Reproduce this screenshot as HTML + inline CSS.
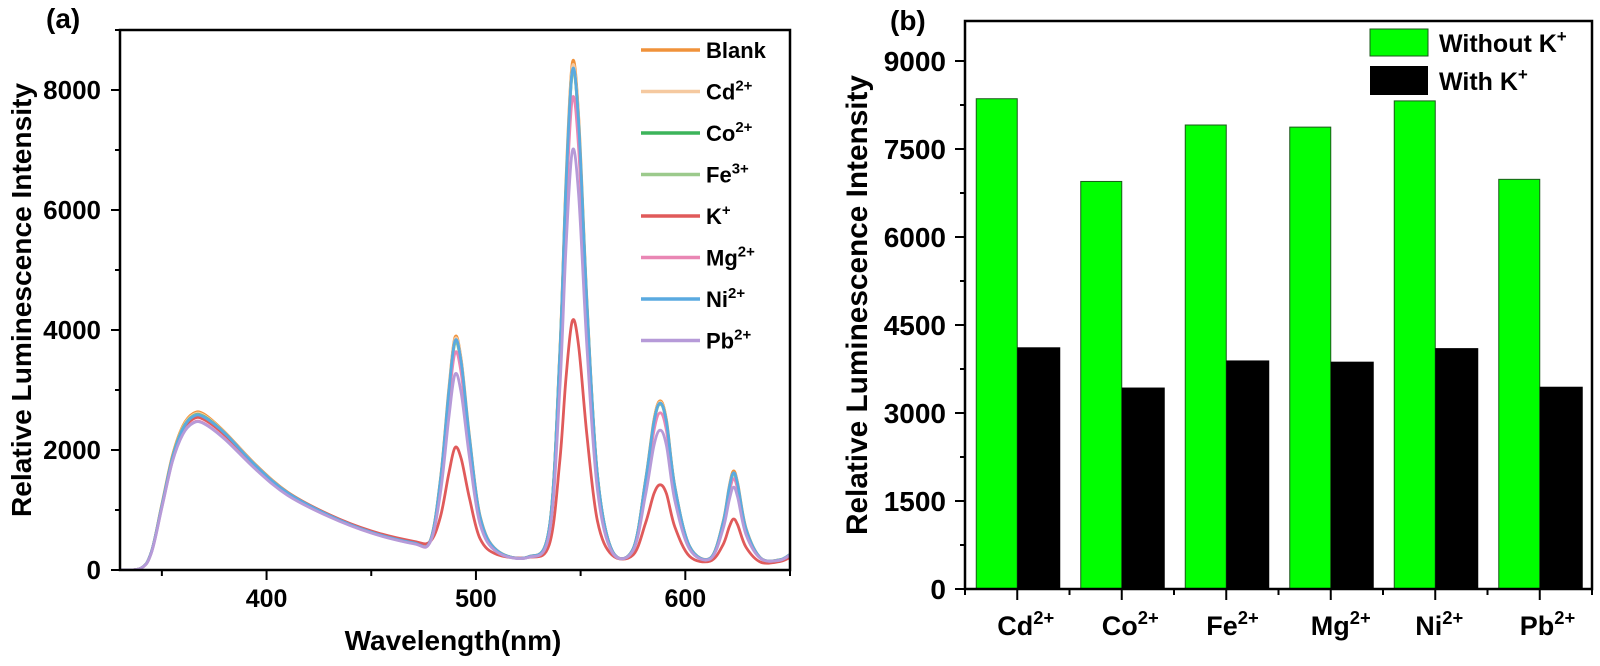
<!DOCTYPE html>
<html><head><meta charset="utf-8"><style>
body{margin:0;background:#fff;}
svg{display:block;font-family:"Liberation Sans",Arial,sans-serif;font-weight:bold;}
</style></head><body>
<svg id="fig" width="1600" height="666" viewBox="0 0 1600 666">
<g id="chartA"></g>
<g id="chartB"></g>
</svg>
<script>
// ---------- Chart (a) data ----------
const wavelengths=[330,340,345,350,355,360,365,370,380,395,410,430,450,470,478,483,487,490,493,497,502,510,525,535,540,543,546,549,553,558,565,575,581,585,588,591,595,602,612,618,621,623,625,629,636,645,650];
const blankVals=[0,30,300,1100,1900,2400,2610,2600,2300,1750,1300,920,640,460,480,1500,3000,3880,3500,2200,900,330,220,700,3600,6500,8450,7600,4500,1600,330,350,1500,2500,2820,2500,1400,400,200,800,1400,1650,1450,700,200,170,260];
const cdVals=[0,30,300,1090,1880,2380,2590,2580,2290,1740,1290,910,630,455,475,1490,2980,3850,3480,2180,890,330,220,695,3570,6450,8380,7540,4470,1590,330,350,1490,2480,2800,2480,1390,400,200,790,1380,1620,1430,690,200,170,260];
const coVals=[0,30,300,1080,1870,2360,2570,2560,2280,1730,1285,905,628,452,470,1470,2940,3800,3430,2160,880,325,218,690,3540,6380,8300,7470,4430,1580,328,348,1480,2460,2780,2460,1380,395,198,780,1360,1600,1410,680,198,168,258];
const feVals=[0,30,298,1078,1865,2355,2565,2555,2275,1728,1283,903,626,450,468,1465,2925,3780,3410,2150,875,324,218,688,3530,6360,8280,7450,4420,1575,327,347,1470,2445,2760,2445,1370,393,197,775,1355,1600,1405,678,198,168,258];
const kVals=[0,30,300,1070,1850,2320,2520,2510,2250,1720,1290,920,650,480,470,880,1600,2040,1850,1180,520,260,210,420,1800,3200,4150,3750,2250,820,250,250,780,1270,1420,1270,720,230,150,420,720,850,750,380,130,140,210];
const mgVals=[0,30,290,1050,1810,2270,2460,2450,2190,1680,1250,890,620,445,460,1410,2800,3620,3270,2060,845,315,215,660,3350,6040,7850,7060,4190,1500,320,340,1400,2320,2620,2320,1300,380,195,740,1290,1520,1340,650,195,165,255];
const niVals=[0,30,300,1075,1860,2350,2560,2550,2280,1735,1288,908,630,453,472,1480,2950,3820,3450,2170,885,326,219,692,3550,6400,8320,7490,4440,1585,328,348,1480,2460,2780,2460,1385,396,198,785,1375,1620,1425,685,199,169,259];
const pbVals=[0,30,285,1040,1800,2260,2450,2440,2180,1670,1245,885,615,440,455,1270,2520,3260,2940,1850,760,300,210,600,2980,5370,6980,6280,3720,1340,300,320,1250,2070,2330,2070,1160,350,185,680,1170,1380,1210,590,190,160,250];
const seriesNames=["Blank","Cd","Co","Fe","K","Mg","Ni","Pb"];
const seriesSups=["","2+","2+","3+","+","2+","2+","2+"];
const xTicksA=[400,500,600];
const yTicksA=[0,2000,4000,6000,8000];
// ---------- Chart (b) data ----------
const categories=["Cd","Co","Fe","Mg","Ni","Pb"];
const withoutK=[8357,6947,7909,7873,8320,6983];
const withK=[4120,3434,3896,3875,4106,3448];
const yTicksB=[0,1500,3000,4500,6000,7500,9000];

const NS="http://www.w3.org/2000/svg";
function mk(parent,tag,attrs,text){const e=document.createElementNS(NS,tag);for(const k in attrs)e.setAttribute(k,attrs[k]);if(text!==undefined)e.textContent=text;parent.appendChild(e);return e;}
function supText(parent,x,y,base,sup,size,anchor){
  const t=mk(parent,"text",{x:x,y:y,"font-size":size,"text-anchor":anchor||"start"});
  const a=document.createElementNS(NS,"tspan");a.textContent=base;t.appendChild(a);
  if(sup){const s=document.createElementNS(NS,"tspan");s.setAttribute("dy",-size*0.4);s.setAttribute("font-size",size*0.68);s.textContent=sup;t.appendChild(s);}
  return t;
}

// ---------- Chart A ----------
(function(){
const g=document.getElementById("chartA");
const L=120,R=790,T=30,B=570,xmin=330,xmax=650,ymax=9000;
const xs=v=>L+(v-xmin)/(xmax-xmin)*(R-L);
const ys=v=>B-v/ymax*(B-T);
const colors=["#f0923a","#f5c9a0","#3cb45a","#9cca8c","#e05a5a","#e986b4","#5aaae0","#b69ad8"];
const data=[blankVals,cdVals,coVals,feVals,kVals,mgVals,niVals,pbVals];
const clip=mk(g,"clipPath",{id:"clipA"});mk(clip,"rect",{x:L,y:T,width:R-L,height:B-T});
data.forEach((vals,si)=>{
  const p=wavelengths.map((w,i)=>[xs(w),ys(vals[i])]);
  let d="M"+p[0][0].toFixed(1)+","+p[0][1].toFixed(1);
  for(let i=0;i<p.length-1;i++){
    const p0=p[Math.max(0,i-1)],p1=p[i],p2=p[i+1],p3=p[Math.min(p.length-1,i+2)];
    const c1=[p1[0]+(p2[0]-p0[0])/6,p1[1]+(p2[1]-p0[1])/6];
    const c2=[p2[0]-(p3[0]-p1[0])/6,p2[1]-(p3[1]-p1[1])/6];
    d+=" C"+c1[0].toFixed(1)+","+c1[1].toFixed(1)+" "+c2[0].toFixed(1)+","+c2[1].toFixed(1)+" "+p2[0].toFixed(1)+","+p2[1].toFixed(1);
  }
  const path=mk(g,"path",{d:d,fill:"none",stroke:colors[si],"stroke-width":2.8,"clip-path":"url(#clipA)"});
  
  
});
const frame=mk(g,"rect",{x:L,y:T,width:R-L,height:B-T,fill:"none",stroke:"#000","stroke-width":2.5});


for(let v=0;v<=9000;v+=1000){
  const y=ys(v);const major=yTicksA.includes(v);
  mk(g,"line",{x1:L,x2:L-(major?9:5),y1:y,y2:y,stroke:"#000","stroke-width":2});
}
yTicksA.forEach(v=>{const t=mk(g,"text",{x:101,y:ys(v)+9,"font-size":26,"text-anchor":"end"},String(v));
  
  });
for(let v=350;v<=650;v+=50){
  const x=xs(v);const major=xTicksA.includes(v);
  mk(g,"line",{x1:x,x2:x,y1:B,y2:B+(major?10:6),stroke:"#000","stroke-width":2});
}
xTicksA.forEach(v=>{const t=mk(g,"text",{x:xs(v),y:607,"font-size":25,"text-anchor":"middle"},String(v));
  
  });
const xt=mk(g,"text",{x:453,y:650,"font-size":28,"text-anchor":"middle"},"Wavelength(nm)");


const yt=mk(g,"text",{x:0,y:0,"font-size":28,"text-anchor":"middle",textLength:434,lengthAdjust:"spacingAndGlyphs",transform:"translate(31,300) rotate(-90)"},"Relative Luminescence Intensity");


const pl=mk(g,"text",{x:46,y:28,"font-size":28},"(a)");


seriesNames.forEach((n,i)=>{
  const y=50+i*41.5;
  const lg=mk(g,"g",{});
  
  
  mk(lg,"line",{x1:641,x2:700,y1:y,y2:y,stroke:colors[i],"stroke-width":3.5});
  supText(lg,706,y+8,n,seriesSups[i],22);
});
})();

// ---------- Chart B ----------
(function(){
const g=document.getElementById("chartB");
const L=965,R=1592,T=21,B=589,ymax=9682;
const step=(R-L)/categories.length;
const cx=i=>L+step*(i+0.5);
const ys=v=>B-v/ymax*(B-T);
categories.forEach((c,i)=>{
  const gb=mk(g,"rect",{x:cx(i)-41,y:ys(withoutK[i]),width:41,height:B-ys(withoutK[i]),fill:"#00ff00",stroke:"#1a5a1a","stroke-width":1});
  
  
  const bb=mk(g,"rect",{x:cx(i),y:ys(withK[i]),width:43,height:B-ys(withK[i]),fill:"#000"});
  
  
});
const frame=mk(g,"rect",{x:L,y:T,width:R-L,height:B-T,fill:"none",stroke:"#000","stroke-width":2.5});


for(let v=0;v<=9000;v+=750){
  const y=ys(v);const major=yTicksB.includes(v);
  mk(g,"line",{x1:L,x2:L-(major?10:5),y1:y,y2:y,stroke:"#000","stroke-width":2});
}
yTicksB.forEach(v=>{const t=mk(g,"text",{x:946,y:ys(v)+10,"font-size":28,"text-anchor":"end"},String(v));
  
  });
for(let i=0;i<=categories.length;i++){
  const x=L+step*i;mk(g,"line",{x1:x,x2:x,y1:B,y2:B+6,stroke:"#000","stroke-width":2});
}
categories.forEach((c,i)=>{
  mk(g,"line",{x1:cx(i),x2:cx(i),y1:B,y2:B+11,stroke:"#000","stroke-width":2});
  const t=supText(g,cx(i)-20,635,c,"2+",27);
  
  
});
const yt=mk(g,"text",{x:0,y:0,"font-size":30,"text-anchor":"middle",textLength:460,lengthAdjust:"spacingAndGlyphs",transform:"translate(867,305) rotate(-90)"},"Relative Luminescence Intensity");


const pl=mk(g,"text",{x:890,y:30,"font-size":28},"(b)");


const l1=mk(g,"g",{});


mk(l1,"rect",{x:1370,y:29,width:58,height:27,fill:"#00ff00",stroke:"#1a5a1a","stroke-width":1});
supText(l1,1439,52,"Without K","+",25);
const l2=mk(g,"g",{});


mk(l2,"rect",{x:1370,y:66,width:58,height:29,fill:"#000"});
supText(l2,1439,90,"With K","+",25);
})();
</script>
</body></html>
